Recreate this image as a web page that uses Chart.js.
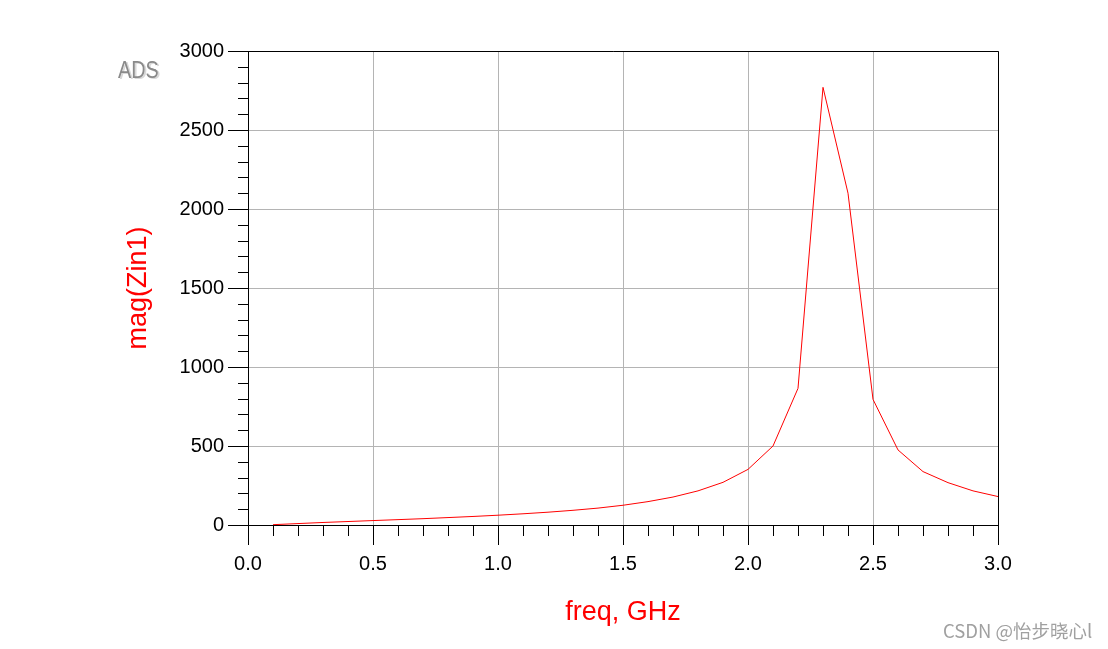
<!DOCTYPE html>
<html>
<head>
<meta charset="utf-8">
<title>mag(Zin1) vs freq</title>
<script src="https://cdn.jsdelivr.net/npm/chart.js@4"></script>
<style>
  html, body { margin: 0; padding: 0; background: #fff; }
  #wrap { position: relative; width: 1108px; height: 649px; }
</style>
</head>
<body>
<div id="wrap"><canvas id="chart"></canvas></div>
<script>
// ---- Data ----
const freqs = [0.1, 0.2, 0.3, 0.4, 0.5, 0.6, 0.7, 0.8, 0.9, 1.0,
               1.1, 1.2, 1.3, 1.4, 1.5, 1.6, 1.7, 1.8, 1.9, 2.0,
               2.1, 2.2, 2.3, 2.4, 2.5, 2.6, 2.7, 2.8, 2.9, 3.0];
const magZin1 = [2, 9, 16, 22, 28, 34, 40, 47, 54, 62,
                 71, 81, 93, 107, 125, 148, 177, 216, 270, 352,
                 500, 865, 2770, 2100, 795, 475, 338, 268, 216, 180];
const xTickLabels = ['0.0', '0.5', '1.0', '1.5', '2.0', '2.5', '3.0'];
const yTickLabels = ['0', '500', '1000', '1500', '2000', '2500', '3000'];
const xMinorStep = 0.1;
const yMinorStep = 100;

const tickFont = { family: 'Liberation Sans', size: 20 };
const titleFont = { family: 'Liberation Sans', size: 27 };

// minor ticks, frame, ADS logo and watermark
const decorations = {
  id: 'decorations',
  beforeDatasetsDraw(chart) {
    const { ctx, chartArea: a, scales: { x, y } } = chart;
    ctx.save();
    ctx.strokeStyle = '#000';
    ctx.lineWidth = 1;
    ctx.beginPath();
    // top + right frame
    ctx.moveTo(a.left - 20, Math.round(a.top) + 0.5);
    ctx.lineTo(Math.round(a.right) + 0.5, Math.round(a.top) + 0.5);
    ctx.lineTo(Math.round(a.right) + 0.5, Math.round(a.bottom) + 20);
    // minor ticks
    for (let v = x.min; v <= x.max + 1e-9; v += xMinorStep) {
      const px = Math.round(x.getPixelForValue(v)) + 0.5;
      ctx.moveTo(px, a.bottom);
      ctx.lineTo(px, a.bottom + 11);
    }
    for (let v = y.min; v <= y.max + 1e-9; v += yMinorStep) {
      const py = Math.round(y.getPixelForValue(v)) + 0.5;
      ctx.moveTo(a.left - 10, py);
      ctx.lineTo(a.left, py);
    }
    ctx.stroke();
    ctx.restore();
  },
  afterDraw(chart) {
    const { ctx } = chart;
    ctx.save();
    // "ADS" logo
    ctx.font = '23px "Liberation Sans"';
    ctx.textBaseline = 'alphabetic';
    ctx.translate(118, 78);
    ctx.scale(0.86, 1);
    ctx.fillStyle = '#d8d8d8';
    ctx.fillText('ADS', 2, 1);
    ctx.fillStyle = '#8a8a8a';
    ctx.fillText('ADS', 0, 0);
    ctx.restore();

    ctx.save();
    ctx.font = '18.5px "Noto Sans CJK SC"';
    ctx.fillStyle = '#a0a0a0';
    ctx.textBaseline = 'alphabetic';
    ctx.fillText('CSDN @怡步晓心l', 943, 638);
    ctx.restore();
  }
};

new Chart(document.getElementById('chart'), {
  type: 'line',
  data: {
    datasets: [{
      label: 'mag(Zin1)',
      data: freqs.map((f, i) => ({ x: f, y: magZin1[i] })),
      borderColor: '#ff0000',
      borderWidth: 1,
      pointRadius: 0,
      tension: 0,
      fill: false
    }]
  },
  options: {
    responsive: true,
    maintainAspectRatio: false,
    animation: false,
    layout: { padding: { top: 51, right: 110, left: 0, bottom: 0 } },
    plugins: { legend: { display: false }, tooltip: { enabled: false } },
    scales: {
      x: {
        type: 'linear',
        min: 0, max: 3,
        afterFit: s => { s.height = 124; },
        ticks: {
          stepSize: 0.5,
          color: '#000',
          font: tickFont,
          padding: 7,
          maxRotation: 0,
          callback: (v, i) => xTickLabels[i]
        },
        grid: { color: '#b4b4b4', tickColor: '#000', tickLength: 20, lineWidth: 1 },
        border: { display: true, color: '#000' },
        title: {
          display: true,
          text: 'freq, GHz',
          color: '#ff0000',
          font: titleFont,
          padding: { top: 0, bottom: 20 }
        }
      },
      y: {
        min: 0, max: 3000,
        afterFit: s => { s.width = 248; },
        ticks: {
          stepSize: 500,
          color: '#000',
          font: tickFont,
          padding: 4,
          callback: (v, i) => yTickLabels[i]
        },
        grid: { color: '#b4b4b4', tickColor: '#000', tickLength: 20, lineWidth: 1 },
        border: { display: true, color: '#000' },
        title: {
          display: true,
          text: 'mag(Zin1)',
          color: '#ff0000',
          font: titleFont,
          padding: { top: 122, bottom: 0 }
        }
      }
    }
  },
  plugins: [decorations]
});
</script>
</body>
</html>
